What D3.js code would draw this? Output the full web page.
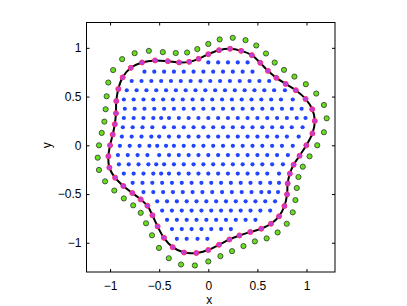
<!DOCTYPE html>
<html>
<head>
<meta charset="utf-8">
<script src="https://cdn.jsdelivr.net/npm/d3@7"></script>
<style>
  body { margin: 0; background: #fff; }
  text { font-family: "Liberation Sans", Arial, Helvetica, sans-serif; font-size: 12px; fill: #000; }
</style>
</head>
<body>
<div id="vis"></div>
<script>
const width = 407;
const height = 306;

// tick values and their labels
const xTicks = [-1, -0.5, 0, 0.5, 1];
const yTicks = [-1, -0.5, 0, 0.5, 1];
const tickLabels = ["\u22121", "\u22120.5", "0", "0.5", "1"];

// boundary nodes (magenta, black curve through them)
const boundaryNodes = [
  [0.000, 0.935], [0.109, 0.976], [0.222, 0.990], [0.334, 0.969], [0.444, 0.925],
  [0.529, 0.846], [0.607, 0.764], [0.693, 0.692], [0.788, 0.630], [0.891, 0.565],
  [0.990, 0.476], [1.058, 0.370], [1.084, 0.250], [1.060, 0.122], [0.998, 0.000],
  [0.929, -0.108], [0.869, -0.199], [0.830, -0.291], [0.808, -0.392], [0.802, -0.503],
  [0.775, -0.623], [0.720, -0.729], [0.638, -0.805], [0.539, -0.856], [0.427, -0.890],
  [0.317, -0.925], [0.215, -0.966], [0.109, -1.021], [0.000, -1.074], [-0.122, -1.105],
  [-0.247, -1.100], [-0.362, -1.045], [-0.452, -0.949], [-0.516, -0.832], [-0.569, -0.718],
  [-0.620, -0.620], [-0.688, -0.555], [-0.773, -0.490], [-0.865, -0.418], [-0.949, -0.332],
  [-1.007, -0.229], [-1.017, -0.113], [-1.000, 0.000], [-0.973, 0.110], [-0.952, 0.216],
  [-0.940, 0.329], [-0.937, 0.454], [-0.916, 0.578], [-0.872, 0.697], [-0.789, 0.795],
  [-0.675, 0.850], [-0.542, 0.871], [-0.412, 0.863], [-0.297, 0.850], [-0.195, 0.856],
  [-0.099, 0.887]
];

// outer (green) nodes
const outerNodes = [
  [0.000, 1.040], [0.116, 1.086], [0.249, 1.103], [0.379, 1.079], [0.488, 1.024],
  [0.587, 0.942], [0.676, 0.849], [0.771, 0.774], [0.877, 0.705], [0.993, 0.627],
  [1.099, 0.531], [1.177, 0.414], [1.205, 0.277], [1.177, 0.134], [1.109, 0.000],
  [1.031, -0.113], [0.962, -0.219], [0.918, -0.325], [0.901, -0.438], [0.887, -0.562],
  [0.860, -0.688], [0.799, -0.805], [0.706, -0.894], [0.594, -0.955], [0.474, -0.986],
  [0.358, -1.034], [0.242, -1.086], [0.123, -1.137], [0.000, -1.192], [-0.137, -1.233],
  [-0.278, -1.223], [-0.402, -1.159], [-0.502, -1.053], [-0.573, -0.923], [-0.634, -0.800],
  [-0.688, -0.693], [-0.765, -0.616], [-0.860, -0.545], [-0.957, -0.464], [-1.051, -0.370],
  [-1.113, -0.253], [-1.126, -0.127], [-1.113, 0.000], [-1.085, 0.127], [-1.058, 0.243],
  [-1.045, 0.370], [-1.035, 0.503], [-1.018, 0.644], [-0.969, 0.772], [-0.877, 0.884],
  [-0.750, 0.945], [-0.605, 0.969], [-0.463, 0.956], [-0.331, 0.947], [-0.216, 0.952],
  [-0.112, 0.987]
];

// interior nodes (blue), one row per y level: [y, x values]
const interiorRows = [
  [0.85, [0.00, 0.10, 0.20, 0.30, 0.40]],
  [0.755, [-0.65, -0.55, -0.45, -0.35, -0.25, -0.15, -0.05, 0.05, 0.15, 0.25, 0.35, 0.45]],
  [0.66, [-0.78, -0.68, -0.58, -0.48, -0.38, -0.28, -0.18, -0.08, 0.02, 0.12, 0.22, 0.32, 0.42, 0.52, 0.62]],
  [0.565, [-0.83, -0.73, -0.63, -0.53, -0.43, -0.33, -0.23, -0.13, -0.03, 0.07, 0.17, 0.27, 0.37, 0.47, 0.57, 0.67, 0.78]],
  [0.47, [-0.86, -0.76, -0.66, -0.56, -0.46, -0.36, -0.26, -0.16, -0.06, 0.04, 0.14, 0.24, 0.34, 0.44, 0.54, 0.64, 0.74, 0.86]],
  [0.375, [-0.85, -0.75, -0.65, -0.55, -0.45, -0.35, -0.25, -0.15, -0.05, 0.05, 0.15, 0.25, 0.35, 0.45, 0.55, 0.65, 0.75, 0.85, 0.95]],
  [0.28, [-0.86, -0.76, -0.66, -0.56, -0.48, -0.40, -0.30, -0.20, -0.10, 0.00, 0.10, 0.20, 0.30, 0.40, 0.50, 0.60, 0.70, 0.80, 0.90, 0.99]],
  [0.185, [-0.87, -0.77, -0.67, -0.57, -0.45, -0.35, -0.25, -0.15, -0.05, 0.05, 0.15, 0.25, 0.35, 0.45, 0.55, 0.65, 0.75, 0.85, 0.96]],
  [0.09, [-0.88, -0.78, -0.68, -0.58, -0.50, -0.40, -0.30, -0.20, -0.10, 0.00, 0.10, 0.20, 0.30, 0.40, 0.50, 0.60, 0.70, 0.80, 0.92]],
  [-0.005, [-0.90, -0.80, -0.70, -0.60, -0.52, -0.43, -0.35, -0.25, -0.15, -0.05, 0.05, 0.15, 0.25, 0.35, 0.45, 0.55, 0.65, 0.75, 0.86]],
  [-0.10, [-0.92, -0.82, -0.72, -0.62, -0.50, -0.40, -0.30, -0.20, -0.10, 0.00, 0.10, 0.20, 0.30, 0.40, 0.50, 0.60, 0.70, 0.81]],
  [-0.195, [-0.91, -0.81, -0.71, -0.61, -0.53, -0.45, -0.35, -0.25, -0.15, -0.05, 0.05, 0.15, 0.25, 0.35, 0.45, 0.55, 0.65, 0.76]],
  [-0.29, [-0.86, -0.76, -0.66, -0.56, -0.48, -0.40, -0.30, -0.20, -0.10, 0.00, 0.10, 0.20, 0.30, 0.40, 0.50, 0.60, 0.72]],
  [-0.385, [-0.77, -0.67, -0.57, -0.47, -0.37, -0.27, -0.17, -0.07, 0.03, 0.13, 0.23, 0.33, 0.43, 0.53, 0.63, 0.72]],
  [-0.48, [-0.66, -0.56, -0.46, -0.36, -0.26, -0.16, -0.06, 0.04, 0.14, 0.24, 0.34, 0.44, 0.54, 0.62, 0.71]],
  [-0.575, [-0.52, -0.42, -0.32, -0.22, -0.12, -0.02, 0.08, 0.18, 0.28, 0.38, 0.48, 0.58, 0.68]],
  [-0.67, [-0.47, -0.37, -0.27, -0.17, -0.07, 0.03, 0.13, 0.23, 0.33, 0.43, 0.53, 0.63]],
  [-0.765, [-0.42, -0.32, -0.22, -0.12, -0.02, 0.08, 0.18, 0.28, 0.38, 0.48]],
  [-0.86, [-0.37, -0.27, -0.17, -0.07, 0.03, 0.13, 0.23]],
  [-0.96, [-0.32, -0.22, -0.11, -0.01]]
];
const interiorNodes = interiorRows.flatMap(([y, xs]) => xs.map(x => [x, y]));

// Create SVG
const svg = d3.select("#vis").append("svg")
  .attr("width", width)
  .attr("height", height);

const x = d3.scaleLinear().domain([-1.24, 1.29]).range([86.5, 335]);
const y = d3.scaleLinear().domain([-1.30, 1.26]).range([272, 22.5]);

// axes box with inward ticks
const tickLen = 3;

svg.append("g")
  .attr("transform", `translate(0,${y.range()[0]})`)
  .call(d3.axisBottom(x).tickValues(xTicks).tickSizeInner(-tickLen).tickSizeOuter(0).tickPadding(9)
    .tickFormat(d => tickLabels[xTicks.indexOf(d)]))
  .call(g => g.select(".domain").remove());
svg.append("g")
  .attr("transform", `translate(0,${y.range()[1]})`)
  .call(d3.axisTop(x).tickValues(xTicks).tickSizeInner(-tickLen).tickSizeOuter(0).tickFormat(""))
  .call(g => g.select(".domain").remove());
svg.append("g")
  .attr("transform", `translate(${x.range()[0]},0)`)
  .call(d3.axisLeft(y).tickValues(yTicks).tickSizeInner(-tickLen).tickSizeOuter(0).tickPadding(5)
    .tickFormat(d => tickLabels[yTicks.indexOf(d)]))
  .call(g => g.select(".domain").remove());
svg.append("g")
  .attr("transform", `translate(${x.range()[1]},0)`)
  .call(d3.axisRight(y).tickValues(yTicks).tickSizeInner(-tickLen).tickSizeOuter(0).tickFormat(""))
  .call(g => g.select(".domain").remove());

svg.selectAll(".tick line").attr("stroke", "#000");
svg.selectAll(".tick text")
  .style("font-family", "'Liberation Sans', Arial, sans-serif")
  .style("font-size", "12px")
  .attr("fill", "#000");

svg.append("rect")
  .attr("x", x.range()[0])
  .attr("y", y.range()[1])
  .attr("width", x.range()[1] - x.range()[0])
  .attr("height", y.range()[0] - y.range()[1])
  .attr("fill", "none")
  .attr("stroke", "#000")
  .attr("stroke-width", 1);

// axis labels
svg.append("text")
  .attr("x", x(0) + 1)
  .attr("y", 304)
  .attr("text-anchor", "middle")
  .text("x");
svg.append("text")
  .attr("transform", `translate(51,${y(0)}) rotate(-90)`)
  .attr("text-anchor", "middle")
  .text("y");

// interior nodes
svg.append("g").selectAll("circle")
  .data(interiorNodes)
  .enter().append("circle")
  .attr("cx", d => x(d[0]))
  .attr("cy", d => y(d[1]))
  .attr("r", 2.1)
  .attr("fill", "#2244ff");

// boundary curve
const line = d3.line()
  .x(d => x(d[0]))
  .y(d => y(d[1]))
  .curve(d3.curveCatmullRomClosed.alpha(0.5));

svg.append("path")
  .datum(boundaryNodes)
  .attr("d", line)
  .attr("fill", "none")
  .attr("stroke", "#000")
  .attr("stroke-width", 2);

svg.append("g").selectAll("circle")
  .data(boundaryNodes)
  .enter().append("circle")
  .attr("cx", d => x(d[0]))
  .attr("cy", d => y(d[1]))
  .attr("r", 2.5)
  .attr("fill", "#b83ee6")
  .attr("stroke", "#ff2a6a")
  .attr("stroke-width", 1);

// outer nodes
svg.append("g").selectAll("circle")
  .data(outerNodes)
  .enter().append("circle")
  .attr("cx", d => x(d[0]))
  .attr("cy", d => y(d[1]))
  .attr("r", 2.6)
  .attr("fill", "#66e01a")
  .attr("stroke", "#333")
  .attr("stroke-width", 0.8);
</script>
</body>
</html>
